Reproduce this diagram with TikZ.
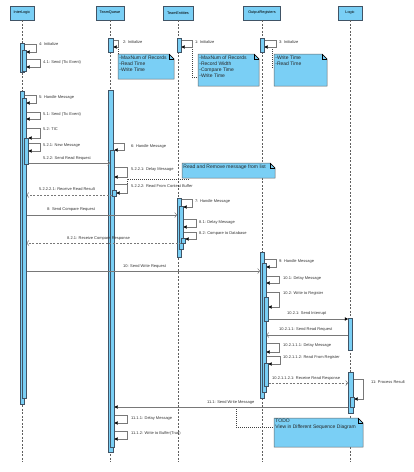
\documentclass[tikz,border=0pt]{standalone}
\usepackage{fontspec}
\setmainfont{Liberation Sans}
\usetikzlibrary{arrows.meta,calc}
\definecolor{vpfill}{RGB}{122,207,245}
\definecolor{vpline}{RGB}{64,84,102}
\definecolor{msgc}{RGB}{120,120,120}
\definecolor{lifec}{RGB}{95,95,95}
\newcommand{\actv}[5]{\node[act, minimum width={(#4-#2)*1pt}, minimum height={(#5-#3)*1pt}] (#1) at (#2,#3) {};}
\newcommand{\vpnote}[5]{%
  \filldraw[notef] (#2,#3) -- ({#4-5},#3) -- (#4,{#3+5}) -- (#4,#5) -- (#2,#5) -- cycle;
  \draw[notefold] ({#4-5},#3) -- ({#4-5},{#3+5}) -- (#4,{#3+5});
  \draw[notefold] ({#4-5},#3) -- (#4,{#3+5});
  \coordinate (#1) at (#2,#3);}
\begin{document}
\begin{tikzpicture}[x=1pt,y=-1pt,
  head/.style={draw=vpline, fill=vpfill, line width=0.6pt, minimum height=14pt, inner sep=0pt, font=\fontsize{3.8}{4.5}\selectfont},
  life/.style={draw=lifec, dash pattern=on 2pt off 1.5pt, line width=0.5pt},
  act/.style={draw=vpline, fill=vpfill, line width=0.5pt, inner sep=0pt, anchor=north west},
  msg/.style={draw=msgc, line width=0.5pt},
  selfm/.style={msg, -{Triangle[length=3.2pt,width=3.4pt,color=black]}},
  callf/.style={msg, -{Triangle[length=3.2pt,width=3.4pt,color=black]}},
  callo/.style={msg, -{Straight Barb[length=2pt,width=5pt]}},
  ret/.style={callo, dash pattern=on 2pt off 1.5pt},
  dotc/.style={draw=black!75, line width=0.4pt, dash pattern=on 1pt off 1pt},
  lbl/.style={font=\fontsize{4}{4.5}\selectfont, anchor=west, inner sep=0pt, text=black!80},
  notef/.style={draw=black!60, fill=vpfill, line width=0.5pt},
  notefold/.style={draw=black, line width=0.4pt},
  notetext/.style={anchor=north west, inner sep=1.2pt, align=left, text=black!85, font=\fontsize{5}{6}\selectfont}]
\useasboundingbox (0,0) rectangle (414,472);
% headers
\node[head, minimum width=24pt] (hIL) at (22,13) {InterLogic};
\node[head, minimum width=28pt] (hTQ) at (110,13) {TeamQueue};
\node[head, minimum width=30pt] (hTE) at (178,13) {TeamEntities};
\node[head, minimum width=37pt] (hOR) at (262,13) {OutputRegisters};
\node[head, minimum width=24pt] (hLG) at (350,13) {Logic};
\coordinate (eIL) at (22,462);
\coordinate (eTQ) at (110,462);
\coordinate (eTE) at (178,462);
\coordinate (eOR) at (262,462);
\coordinate (eLG) at (350,462);
\draw[life] (hIL.south) -- (eIL);
\draw[life] (hTQ.south) -- (eTQ);
\draw[life] (hTE.south) -- (eTE);
\draw[life] (hOR.south) -- (eOR);
\draw[life] (hLG.south) -- (eLG);
% notes
\vpnote{n1}{118}{54}{174}{79}
\node[notetext] (n1t) at (n1) {-MaxNum of Records\\-Read Time\\-Write Time};
\vpnote{n2}{198}{54}{259}{86}
\node[notetext] (n2t) at (n2) {-MaxNum of Records\\-Record Width\\-Compare Time\\-Write Time};
\vpnote{n3}{274}{54}{327}{86}
\node[notetext] (n3t) at (n3) {-Write Time\\-Read Time};
\vpnote{n4}{182}{163}{275}{178}
\node[notetext] (n4t) at (n4) {Read and Remove message from list};
\vpnote{n5}{274}{418}{363}{447}
\node[notetext] (n5t) at (n5) {TODO\\View in Different Sequence Diagram};
% activations
\actv{a1}{20}{43}{24}{72}
\actv{a1i}{22}{50}{26}{71}
\actv{a2}{20}{91}{24}{404}
\actv{a2i}{22}{98}{26}{398}
\actv{a2ii}{24}{138}{28}{164}
\actv{q1}{108}{38}{113}{52}
\actv{q2}{108}{90}{113}{452}
\actv{q2i}{110}{150}{114}{447}
\actv{q2ii}{112}{190}{116}{196}
\actv{e1}{177}{38}{181}{52}
\actv{e2}{177}{198}{181}{257}
\actv{e2i}{179}{206}{183}{249}
\actv{e2ii}{181}{238}{185}{243}
\actv{o1}{260}{38}{264}{52}
\actv{o2}{260}{252}{264}{398}
\actv{o2i}{262}{263}{266}{392}
\actv{o2ii}{264}{297}{268}{321}
\actv{o2iii}{264}{363}{268}{386}
\actv{l1}{348}{318}{352}{350}
\actv{l2}{348}{372}{353}{413}
\actv{l2i}{350}{397}{354}{407}
% note connectors
\draw[dotc] (118,47) -- (n1);
\draw[dotc] (192,47) -- (192,77) -- (198,77);
\draw[dotc] (272,47) -- (272,67) -- (274,67);
\draw[dotc] (127,184) |- (190,179);
\draw[dotc] (236,407) -- (236,427) -- (274,427);
% InterLogic messages
\draw[selfm] (a1.east |- 0,44) -- (36,44) -- (36,52) -- (a1i.east |- 0,52);
\node[lbl] (m4) at (39,44) {4: Initialize};
\draw[selfm] (a1i.east |- 0,59) -- (40,59) -- (40,67) -- (a1i.east |- 0,67);
\node[lbl] (m41) at (43,62) {4.1: Send (Tic Event)};
\draw[selfm] (a2.east |- 0,95) -- (36,95) -- (36,103) -- (a2i.east |- 0,103);
\node[lbl] (m5) at (39,97) {5: Handle Message};
\draw[selfm] (a2i.east |- 0,112) -- (40,112) -- (40,119) -- (a2i.east |- 0,119);
\node[lbl] (m51) at (43,114) {5.1: Send (Tic Event)};
\draw[selfm] (a2i.east |- 0,128) -- (40,128) -- (40,138) -- (a2ii.east |- 0,138);
\node[lbl] (m52) at (43,129) {5.2: TIC};
\draw[selfm] (a2ii.east |- 0,143) -- (40,143) -- (40,151) -- (a2ii.east |- 0,151);
\node[lbl] (m521) at (43,146) {5.2.1: New Message};
\draw[callo] (a2ii.east |- 0,163) -- (q2i.west |- 0,163);
\node[lbl] (m522) at (43,158) {5.2.2: Send Read Request};
% TeamQueue
\draw[selfm] (q1.east |- 0,40) -- (118,40) -- (118,47) -- (q1.east |- 0,47);
\node[lbl] (m2) at (123,42) {2: Initialize};
\draw[selfm] (q2.east |- 0,143) -- (124,143) -- (124,150) -- (q2i.east |- 0,150);
\node[lbl] (m6) at (131,146) {6: Handle Message};
\draw[selfm] (q2i.east |- 0,167) -- (127,167) -- (127,177) -- (q2i.east |- 0,177);
\node[lbl] (m5221) at (131,169) {5.2.2.1: Delay Message};
\draw[selfm] (q2i.east |- 0,184) -- (127,184) -- (127,193) -- (q2ii.east |- 0,193);
\node[lbl] (m5222) at (131,186) {5.2.2.2: Read From Contest Buffer};
\draw[ret] (q2ii.west |- 0,195) -- (a2i.east |- 0,195);
\node[lbl] (m52221) at (39,189) {5.2.2.2.1: Receive Read Result};
% TeamEntities
\draw[selfm] (e1.east |- 0,40) -- (192,40) -- (192,47) -- (e1.east |- 0,47);
\node[lbl] (m1) at (195,42) {1: Initialize};
\draw[callo] (a2i.east |- 0,215) -- (e2.west |- 0,215);
\node[lbl] (m8) at (47,209) {8: Send Compare Request};
\draw[selfm] (e2.east |- 0,199) -- (192,199) -- (192,207) -- (e2i.east |- 0,207);
\node[lbl] (m7) at (195,201) {7: Handle Message};
\draw[selfm] (e2i.east |- 0,219) -- (196,219) -- (196,227) -- (e2i.east |- 0,227);
\node[lbl] (m81) at (199,222) {8.1: Delay Message};
\draw[selfm] (e2i.east |- 0,232) -- (196,232) -- (196,239) -- (e2ii.east |- 0,239);
\node[lbl] (m82) at (199,233) {8.2: Compare to Database};
\draw[ret] (e2ii.west |- 0,243) -- (a2i.east |- 0,243);
\node[lbl] (m821) at (67,238) {8.2.1: Receive Compare Response};
% OutputRegisters
\draw[selfm] (o1.east |- 0,40) -- (276,40) -- (276,47) -- (o1.east |- 0,47);
\node[lbl] (m3) at (279,42) {3: Initialize};
\draw[callo] (a2i.east |- 0,271) -- (o2.west |- 0,271);
\node[lbl] (m10) at (123,266) {10: Send Write Request};
\draw[selfm] (o2.east |- 0,259) -- (276,259) -- (276,267) -- (o2i.east |- 0,267);
\node[lbl] (m9) at (279,261) {9: Handle Message};
\draw[selfm] (o2i.east |- 0,276) -- (279,276) -- (279,283) -- (o2i.east |- 0,283);
\node[lbl] (m101) at (283,278) {10.1: Delay Message};
\draw[selfm] (o2i.east |- 0,292) -- (279,292) -- (279,307) -- (o2ii.east |- 0,307);
\node[lbl] (m102) at (283,293) {10.2: Write to Register};
\draw[callf] (o2ii.east |- 0,319) -- (l1.west |- 0,319);
\node[lbl] (m1021) at (287,313) {10.2.1: Send Interrupt};
\draw[callo] (l1.west |- 0,335) -- (o2i.east |- 0,335);
\node[lbl] (m10211) at (279,329) {10.2.1.1: Send Read Request};
\draw[selfm] (o2i.east |- 0,343) -- (279,343) -- (279,352) -- (o2i.east |- 0,352);
\node[lbl] (m102111) at (283,345) {10.2.1.1.1: Delay Message};
\draw[selfm] (o2i.east |- 0,356) -- (280,356) -- (280,364) -- (o2iii.east |- 0,364);
\node[lbl] (m102112) at (283,357) {10.2.1.1.2: Read From Register};
\draw[ret] (o2iii.east |- 0,383) -- (l2.west |- 0,383);
\node[lbl] (m1021121) at (272,378) {10.2.1.1.2.1: Receive Read Response};
% Logic
\draw[selfm] (l2.east |- 0,379) -- (363,379) -- (363,399) -- (l2i.east |- 0,399);
\node[lbl] (m11) at (371,382) {11: Process Result};
\draw[callf] (l2.west |- 0,407) -- (q2i.east |- 0,407);
\node[lbl] (m111) at (207,402) {11.1: Send Write Message};
\draw[selfm] (q2i.east |- 0,415) -- (127,415) -- (127,423) -- (q2i.east |- 0,423);
\node[lbl] (m1111) at (131,418) {11.1.1: Delay Message};
\draw[selfm] (q2i.east |- 0,431) -- (127,431) -- (127,439) -- (q2i.east |- 0,439);
\node[lbl] (m1112) at (131,433) {11.1.2: Write to Buffer(True)};
\end{tikzpicture}
\end{document}
